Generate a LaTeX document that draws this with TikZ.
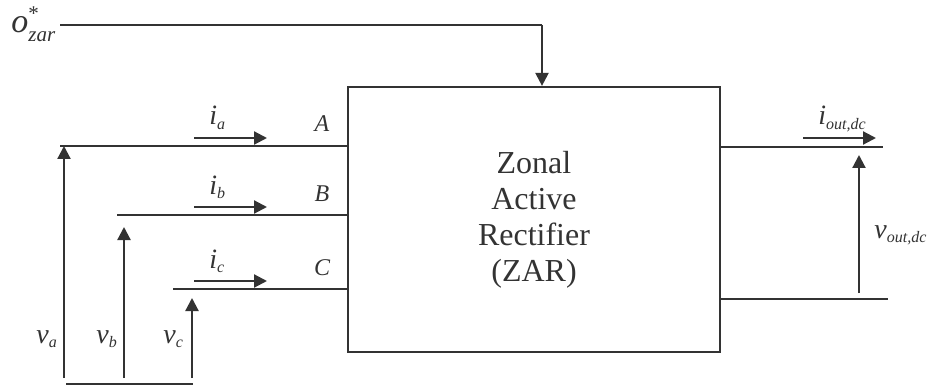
\documentclass[tikz,border=0pt]{standalone}
\usepackage{amsmath}
\usepackage{fontspec}
\setmainfont{Liberation Serif}
\usetikzlibrary{arrows.meta}
\definecolor{ink}{HTML}{333333}
\DeclareMathSizes{14}{14}{8}{6}
\DeclareMathSizes{17}{17}{10.5}{7}

\tikzstyle{block}=[draw=ink,line width=1.1pt,minimum width=186pt,minimum height=132.5pt,inner sep=0pt,align=center,text=ink,font=\fontsize{16}{18}\selectfont]
\tikzstyle{wire}=[draw=ink,line width=1.1pt]
\tikzstyle{flow}=[wire,-{Triangle[length=6.5pt,width=6.5pt]}]
\tikzstyle{lbl}=[inner sep=0pt,text=ink,font=\fontsize{14}{16}\selectfont]
\tikzstyle{phase}=[inner sep=0pt,text=ink,font=\fontsize{12}{14}\selectfont\itshape]

\begin{document}
\begin{tikzpicture}[x=0.5pt,y=-0.5pt]
\useasboundingbox (0,0) rectangle (932,390);
\node[block] (zar) at (534,219.5) {Zonal\\Active\\Rectifier\\(ZAR)};
% reference input
\coordinate (ref0) at (60,25);
\coordinate (ref1) at (542,25);
\node[lbl,anchor=base west,font=\fontsize{17}{19}\selectfont] (oref) at (11,33) {$\textit{o}^{\text{*}}_{\textit{zar}}$};
\draw[wire] (ref0) -- (ref1);
\draw[flow] (ref1) -- (ref1 |- zar.north);
% three phases
\foreach \n/\N/\y/\tip/\xs/\xv/\xl in {a/A/146/146/60/64/36, b/B/215/227/117/124/96, c/C/289/298/173/192/163}{
  \coordinate (s\n) at (\xs,\y);
  \draw[wire] (s\n) -- (s\n -| zar.west);
  \coordinate (i\n0) at (194,\y-8);
  \coordinate (i\n1) at (267,\y-8);
  \draw[flow] (i\n0) -- (i\n1);
  \node[lbl,anchor=base west] (li\n) at (209,\y-21) {$\textit{i}_{\textit{\n}}$};
  \node[phase,anchor=base] (l\N) at (322,\y-14) {\N};
  \coordinate (v\n0) at (\xv,378);
  \coordinate (v\n1) at (\xv,\tip);
  \draw[flow] (v\n0) -- (v\n1);
  \node[lbl,anchor=base west] (lv\n) at (\xl,343) {$\textit{v}_{\textit{\n}}$};
}
\coordinate (gnd0) at (66,384);
\coordinate (gnd1) at (193,384);
\draw[wire] (gnd0) -- (gnd1);
% dc output
\coordinate (dcp) at (883,147);
\coordinate (dcn) at (888,299);
\draw[wire] (dcp -| zar.east) -- (dcp);
\draw[wire] (dcn -| zar.east) -- (dcn);
\coordinate (io0) at (803,138);
\coordinate (io1) at (876,138);
\draw[flow] (io0) -- (io1);
\node[lbl,anchor=base west] (lio) at (818,125) {$\textit{i}_{\textit{out,dc}}$};
\coordinate (vo0) at (859,293);
\coordinate (vo1) at (859,155);
\draw[flow] (vo0) -- (vo1);
\node[lbl,anchor=base west] (lvo) at (874,238) {$\textit{v}_{\textit{out,dc}}$};
\end{tikzpicture}
\end{document}
